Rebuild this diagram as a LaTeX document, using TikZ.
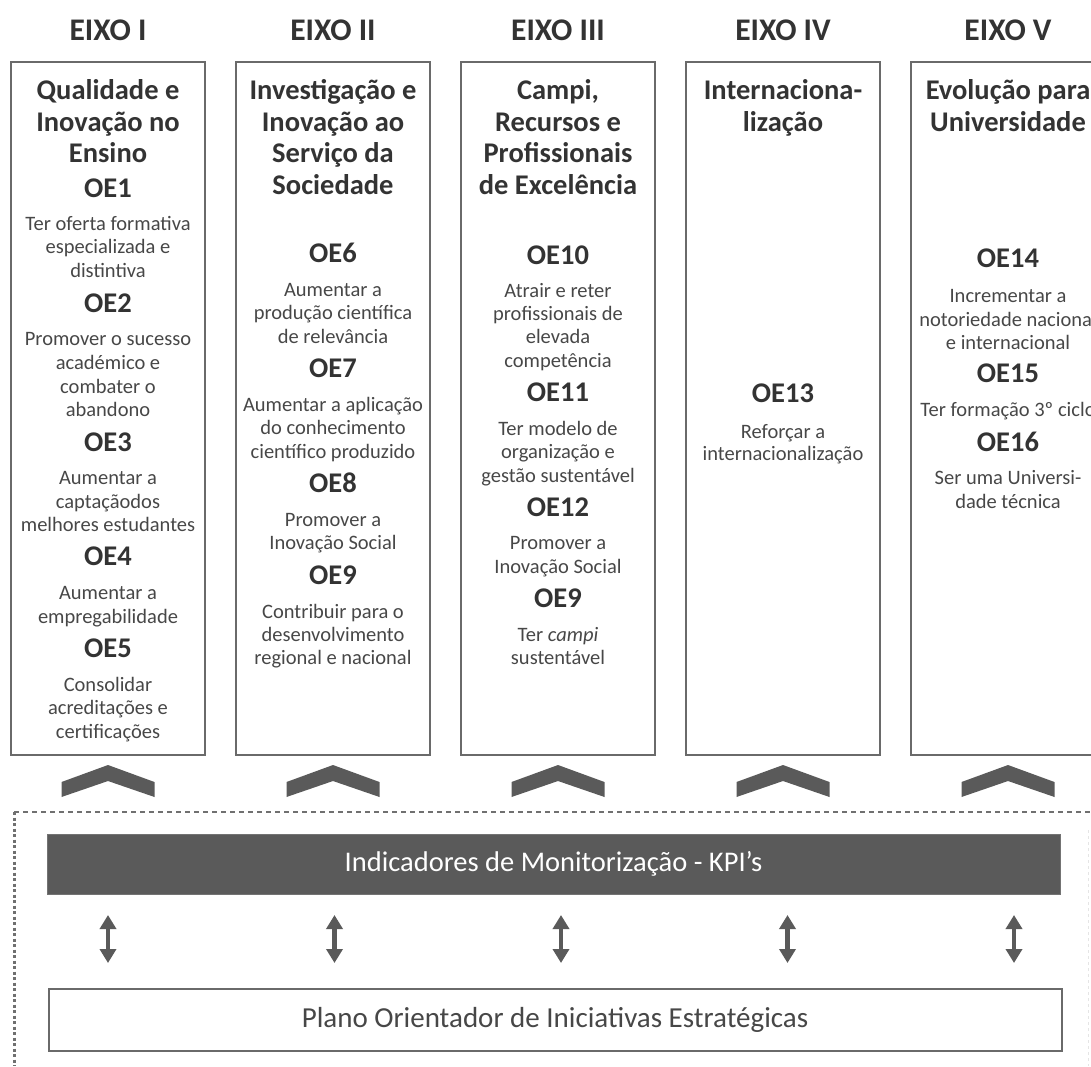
\documentclass[tikz,border=0pt]{standalone}
\usepackage{fontspec}
\setmainfont{Carlito}
\usetikzlibrary{arrows.meta}
\definecolor{boxline}{HTML}{6A6A6A}
\definecolor{dark}{HTML}{333333}
\definecolor{midtxt}{HTML}{474747}
\definecolor{fillg}{HTML}{5A5A5A}
\definecolor{dashg}{HTML}{707070}
\begin{document}
\begin{tikzpicture}[x=1pt,y=-1pt,
  eixo/.style={font=\fontsize{31.5}{36}\selectfont\bfseries, text=dark, anchor=base, yshift=-10pt, inner sep=0pt},
  ttl/.style={font=\fontsize{28.5}{32}\selectfont\bfseries, text=dark, anchor=base, yshift=-9pt, inner sep=0pt},
  dsc/.style={font=\fontsize{20.5}{24}\selectfont, text=midtxt, anchor=base, yshift=-6.5pt, inner sep=0pt},
  colbox/.style={draw=boxline, line width=2pt, minimum width=194pt, minimum height=693pt, inner sep=0pt},
  chev/.style={fill=fillg},
  kpibar/.style={fill=fillg, draw=fillg!85!white, line width=1pt, minimum width=1013pt, minimum height=60pt, inner sep=0pt, text=white, font=\fontsize{28.5}{32}\selectfont},
  planbox/.style={draw=boxline, line width=2pt, fill=white, minimum width=1013pt, minimum height=62pt, inner sep=0pt, text=midtxt, font=\fontsize{29}{32}\selectfont},
  dblarrow/.style={draw=fillg, line width=4.5pt, {Triangle[width=16pt,length=14pt]}-{Triangle[width=16pt,length=14pt]}},
  dashtop/.style={draw=dashg, line width=2.5pt, dash pattern=on 5pt off 4pt},
  dashleft/.style={draw=dashg, line width=3pt, dash pattern=on 3pt off 2.5pt},
]
\useasboundingbox (0,0) rectangle (1091,1066);
\clip (0,0) rectangle (1091,1066);

% axis titles
\node[eixo] (e1) at (108,30) {EIXO I};
\node[eixo] (e2) at (333,30) {EIXO II};
\node[eixo] (e3) at (558,30) {EIXO III};
\node[eixo] (e4) at (783,30) {EIXO IV};
\node[eixo] (e5) at (1008,30) {EIXO V};

% column boxes
\node[colbox] (b1) at (108,408.5) {};
\node[colbox] (b2) at (333,408.5) {};
\node[colbox] (b3) at (558,408.5) {};
\node[colbox] (b4) at (783,408.5) {};
\node[colbox] (b5) at (1008,408.5) {};

% column I
\node[ttl] (t1a) at (108,90) {Qualidade e};
\node[ttl] (t1b) at (108,122) {Inovação no};
\node[ttl] (t1c) at (108,153) {Ensino};
\node[ttl] (oe1) at (108,188) {OE1};
\node[dsc] (d1a) at (108,224) {Ter oferta formativa};
\node[dsc] (d1b) at (108,247) {especializada e};
\node[dsc] (d1c) at (108,271) {distintiva};
\node[ttl] (oe2) at (108,303) {OE2};
\node[dsc] (d2a) at (108,339) {Promover o sucesso};
\node[dsc] (d2b) at (108,363) {académico e};
\node[dsc] (d2c) at (108,387) {combater o};
\node[dsc] (d2d) at (108,410) {abandono};
\node[ttl] (oe3) at (108,442) {OE3};
\node[dsc] (d3a) at (108,478) {Aumentar a};
\node[dsc] (d3b) at (108,502) {captaçãodos};
\node[dsc] (d3c) at (108,525) {melhores estudantes};
\node[ttl] (oe4) at (108,556) {OE4};
\node[dsc] (d4a) at (108,593) {Aumentar a};
\node[dsc] (d4b) at (108,617) {empregabilidade};
\node[ttl] (oe5) at (108,648) {OE5};
\node[dsc] (d5a) at (108,685) {Consolidar};
\node[dsc] (d5b) at (108,708) {acreditações e};
\node[dsc] (d5c) at (108,732) {certificações};

% column II
\node[ttl] (t2a) at (333,90) {Investigação e};
\node[ttl] (t2b) at (333,122) {Inovação ao};
\node[ttl] (t2c) at (333,153) {Serviço da};
\node[ttl] (t2d) at (333,185) {Sociedade};
\node[ttl] (oe6) at (333,253) {OE6};
\node[dsc] (d6a) at (333,290) {Aumentar a};
\node[dsc] (d6b) at (333,313) {produção científica};
\node[dsc] (d6c) at (333,337) {de relevância};
\node[ttl] (oe7) at (333,368) {OE7};
\node[dsc] (d7a) at (333,405) {Aumentar a aplicação};
\node[dsc] (d7b) at (333,428) {do conhecimento};
\node[dsc] (d7c) at (333,452) {científico produzido};
\node[ttl] (oe8) at (333,483) {OE8};
\node[dsc] (d8a) at (333,520) {Promover a};
\node[dsc] (d8b) at (333,543) {Inovação Social};
\node[ttl] (oe9) at (333,575) {OE9};
\node[dsc] (d9a) at (333,612) {Contribuir para o};
\node[dsc] (d9b) at (333,635) {desenvolvimento};
\node[dsc] (d9c) at (333,658) {regional e nacional};

% column III
\node[ttl] (t3a) at (558,90) {Campi,};
\node[ttl] (t3b) at (558,122) {Recursos e};
\node[ttl] (t3c) at (558,153) {Profissionais};
\node[ttl] (t3d) at (558,185) {de Excelência};
\node[ttl] (oe10) at (558,255) {OE10};
\node[dsc] (d10a) at (558,291) {Atrair e reter};
\node[dsc] (d10b) at (558,314) {profissionais de};
\node[dsc] (d10c) at (558,337) {elevada};
\node[dsc] (d10d) at (558,361) {competência};
\node[ttl] (oe11) at (558,392) {OE11};
\node[dsc] (d11a) at (558,429) {Ter modelo de};
\node[dsc] (d11b) at (558,452) {organização e};
\node[dsc] (d11c) at (558,476) {gestão sustentável};
\node[ttl] (oe12) at (558,507) {OE12};
\node[dsc] (d12a) at (558,543) {Promover a};
\node[dsc] (d12b) at (558,567) {Inovação Social};
\node[ttl] (oe9b) at (558,598) {OE9};
\node[dsc] (d9ba) at (558,635) {Ter \textit{campi}};
\node[dsc] (d9bb) at (558,658) {sustentável};

% column IV
\node[ttl] (t4a) at (783,90) {Internaciona-};
\node[ttl] (t4b) at (783,122) {lização};
\node[ttl] (oe13) at (783,393) {OE13};
\node[dsc] (d13a) at (783,432) {Reforçar a};
\node[dsc] (d13b) at (783,454) {internacionalização};

% column V
\node[ttl] (t5a) at (1008,90) {Evolução para};
\node[ttl] (t5b) at (1008,122) {Universidade};
\node[ttl] (oe14) at (1008,258) {OE14};
\node[dsc] (d14a) at (1008,296) {Incrementar a};
\node[dsc] (d14b) at (1008,320) {notoriedade nacional};
\node[dsc] (d14c) at (1008,343) {e internacional};
\node[ttl] (oe15) at (1008,373) {OE15};
\node[dsc] (d15a) at (1008,410) {Ter formação 3º ciclo};
\node[ttl] (oe16) at (1008,442) {OE16};
\node[dsc] (d16a) at (1008,478) {Ser uma Universi-};
\node[dsc] (d16b) at (1008,502) {dade técnica};

% chevrons
\foreach \c in {108,333,558,783,1008}{
  \fill[chev] (\c-46.5,782) -- (\c,765) -- (\c+46.5,782) -- (\c+46.5,797) -- (\c,781) -- (\c-46.5,797) -- cycle;
}

% dashed frame
\draw[dashtop] (14,812) -- (1091,812);
\draw[dashleft] (14,812) -- (14,1066);
\draw[draw=gray!20, line width=1pt, dash pattern=on 3pt off 3pt] (1088,830) -- (1088,1066);

% KPI bar and plan box
\node[kpibar] (kpi) at (553.5,864) {Indicadores de Monitorização - KPI’s};
\node[planbox] (plan) at (555,1019.5) {Plano Orientador de Iniciativas Estratégicas};

% double arrows
\foreach \i/\x in {1/108,2/334.5,3/561,4/787.5,5/1014}{
  \coordinate (at\i) at (\x,915);
  \coordinate (ab\i) at (\x,963);
  \draw[dblarrow] (at\i) -- (ab\i);
}
\end{tikzpicture}
\end{document}
